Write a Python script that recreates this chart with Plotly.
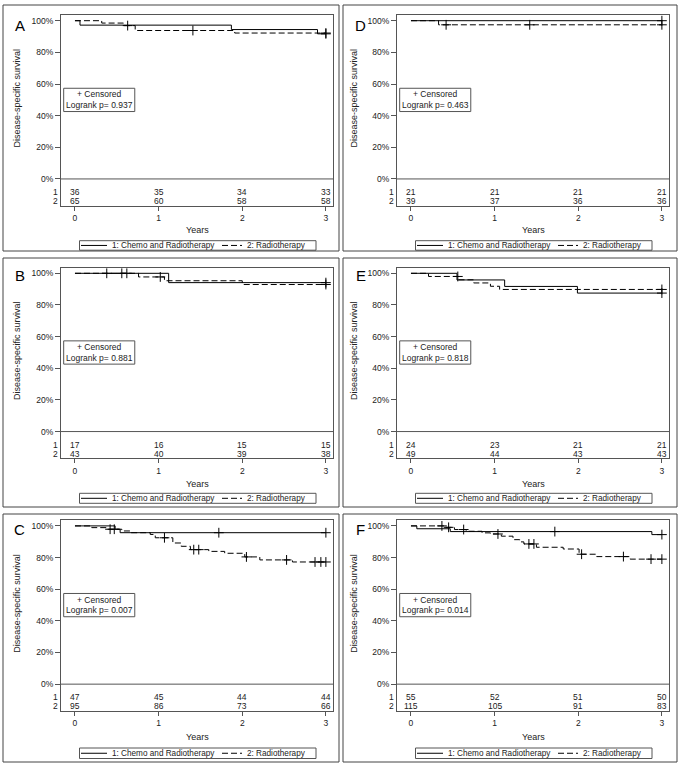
import plotly.graph_objects as go

W, H = 683, 769
FONT = "Liberation Sans, Arial, sans-serif"

years = [0, 1, 2, 3]
pct_ticks = [0, 20, 40, 60, 80, 100]
pct_labels = ['0%', '20%', '40%', '60%', '80%', '100%']
group_names = ['1: Chemo and Radiotherapy', '2: Radiotherapy']
letters = ['A', 'B', 'C', 'D', 'E', 'F']

# ---- panel A
a_chemo_t = [0, 0.06, 1.87, 2.90, 3.0]
a_chemo_s = [100, 97.2, 94.4, 91.7, 91.7]
a_chemo_ct = [3.0]
a_chemo_cs = [91.7]
a_radio_t = [0, 0.32, 0.58, 0.72, 1.91, 3.0]
a_radio_s = [100, 98.5, 96.9, 93.8, 92.2, 92.2]
a_radio_ct = [0.63, 1.41, 3.0]
a_radio_cs = [96.9, 93.8, 92.2]
a_risk1 = [36, 35, 34, 33]
a_risk2 = [65, 60, 58, 58]
a_p = '0.937'

# ---- panel B
b_chemo_t = [0, 1.12, 3.0]
b_chemo_s = [100, 94.1, 94.1]
b_chemo_ct = [0.38, 0.56, 0.62, 3.0]
b_chemo_cs = [100, 100, 100, 94.1]
b_radio_t = [0, 0.76, 1.07, 2.0, 3.0]
b_radio_s = [100, 97.7, 95.3, 92.9, 92.9]
b_radio_ct = [1.02, 3.0]
b_radio_cs = [97.7, 92.9]
b_risk1 = [17, 16, 15, 15]
b_risk2 = [43, 40, 39, 38]
b_p = '0.881'

# ---- panel C
c_chemo_t = [0, 0.48, 0.54, 3.0]
c_chemo_s = [100, 97.9, 95.7, 95.7]
c_chemo_ct = [1.72, 3.0]
c_chemo_cs = [95.7, 95.7]
c_radio_t = [0, 0.20, 0.38, 0.56, 0.66, 0.90, 0.96, 1.17, 1.27, 1.38, 1.60, 1.79, 2.03, 2.21, 2.60, 3.0]
c_radio_s = [100, 98.9, 97.9, 96.8, 95.7, 94.6, 92.5, 89.2, 87.1, 85.0, 83.9, 82.7, 80.4, 78.5, 77.2, 77.2]
c_radio_ct = [0.42, 0.47, 1.07, 1.42, 1.48, 2.05, 2.53, 2.87, 2.94, 3.0]
c_radio_cs = [97.9, 97.9, 92.5, 85.0, 85.0, 80.4, 78.5, 77.2, 77.2, 77.2]
c_risk1 = [47, 45, 44, 44]
c_risk2 = [95, 86, 73, 66]
c_p = '0.007'

# ---- panel D
d_chemo_t = [0, 3.0]
d_chemo_s = [100, 100]
d_chemo_ct = [3.0]
d_chemo_cs = [100]
d_radio_t = [0, 0.33, 3.0]
d_radio_s = [100, 97.4, 97.4]
d_radio_ct = [0.42, 1.42, 3.0]
d_radio_cs = [97.4, 97.4, 97.4]
d_risk1 = [21, 21, 21, 21]
d_risk2 = [39, 37, 36, 36]
d_p = '0.463'

# ---- panel E
e_chemo_t = [0, 0.55, 1.12, 1.99, 3.0]
e_chemo_s = [100, 95.8, 91.7, 87.5, 87.5]
e_chemo_ct = [3.0]
e_chemo_cs = [87.5]
e_radio_t = [0, 0.21, 0.57, 0.75, 0.95, 1.06, 3.0]
e_radio_s = [100, 98.0, 95.9, 93.9, 91.8, 89.8, 89.8]
e_radio_ct = [0.56, 3.0]
e_radio_cs = [98.0, 89.8]
e_risk1 = [24, 23, 21, 21]
e_risk2 = [49, 44, 43, 43]
e_p = '0.818'

# ---- panel F
f_chemo_t = [0, 0.07, 0.47, 2.88, 3.0]
f_chemo_s = [100, 98.2, 96.4, 94.5, 94.5]
f_chemo_ct = [1.72, 3.0]
f_chemo_cs = [96.4, 94.5]
f_radio_t = [0, 0.41, 0.52, 0.66, 0.85, 0.95, 1.08, 1.22, 1.30, 1.35, 1.50, 1.82, 2.01, 2.22, 2.62, 3.0]
f_radio_s = [100, 99.1, 97.7, 96.6, 95.6, 94.9, 93.5, 91.3, 89.9, 88.6, 86.5, 85.4, 82.1, 80.6, 79.0, 79.0]
f_radio_ct = [0.37, 0.45, 0.63, 1.04, 1.41, 1.47, 2.04, 2.54, 2.87, 3.0]
f_radio_cs = [100, 99.1, 97.7, 94.9, 88.6, 88.6, 82.1, 80.6, 79.0, 79.0]
f_risk1 = [55, 52, 51, 50]
f_risk2 = [115, 105, 91, 83]
f_p = '0.014'

panels = [
    (a_chemo_t, a_chemo_s, a_chemo_ct, a_chemo_cs, a_radio_t, a_radio_s, a_radio_ct, a_radio_cs, a_risk1, a_risk2, a_p),
    (b_chemo_t, b_chemo_s, b_chemo_ct, b_chemo_cs, b_radio_t, b_radio_s, b_radio_ct, b_radio_cs, b_risk1, b_risk2, b_p),
    (c_chemo_t, c_chemo_s, c_chemo_ct, c_chemo_cs, c_radio_t, c_radio_s, c_radio_ct, c_radio_cs, c_risk1, c_risk2, c_p),
    (d_chemo_t, d_chemo_s, d_chemo_ct, d_chemo_cs, d_radio_t, d_radio_s, d_radio_ct, d_radio_cs, d_risk1, d_risk2, d_p),
    (e_chemo_t, e_chemo_s, e_chemo_ct, e_chemo_cs, e_radio_t, e_radio_s, e_radio_ct, e_radio_cs, e_risk1, e_risk2, e_p),
    (f_chemo_t, f_chemo_s, f_chemo_ct, f_chemo_cs, f_radio_t, f_radio_s, f_radio_ct, f_radio_cs, f_risk1, f_risk2, f_p),
]

# pixel layout of the page (left/right column, three rows)
col_frame = [(61, 333), (397, 669)]
col_border = [(3, 339), (343, 677)]
col_zero = [75, 411]
col_letter = [19.5, 360.5]
col_ytitle = [17, 354]
row_frame_top = [15, 267.6, 520.2]
frame_h = 190.7
row_border = [(5, 251), (258, 507), (514, 762)]
row_years = [230, 483.5, 737.3]
row_legend = [(240.7, 250.2), (493.3, 503.3), (748, 758.5)]
row_letter = [25.3, 275, 529]


def fx(px):
    return px / W


def fy(py):
    return 1 - py / H


AX = '#555555'
fig = go.Figure()
layout = dict(width=W, height=H, margin=dict(l=0, r=0, t=0, b=0),
              paper_bgcolor='white', plot_bgcolor='white',
              font=dict(family=FONT, size=9, color='#222222'),
              showlegend=False)
shapes = []
annots = []


def note(x, y, text, xref='paper', yref='paper', size=9, xanchor='center', **kw):
    d = dict(x=x, y=y, xref=xref, yref=yref, text=text, showarrow=False,
             xanchor=xanchor, yanchor='middle', font=dict(size=size), borderpad=0)
    d.update(kw)
    annots.append(d)


for i, p in enumerate(panels):
    (ct, cs, cct, ccs, rt, rs, rct, rcs, risk1, risk2, pval) = p
    col, row = i // 3, i % 3
    k = '' if i == 0 else str(i + 1)
    xa, ya = 'x' + k, 'y' + k

    top = row_frame_top[row]
    layout['xaxis' + k] = dict(
        domain=[fx(col_frame[col][0]), fx(col_frame[col][1])],
        range=[-0.167, 3.085], anchor=ya, tickvals=years,
        ticks='outside', ticklen=4, tickcolor=AX, showline=True, mirror=True,
        linecolor=AX, linewidth=1, showgrid=False, zeroline=False,
        tickfont=dict(size=8.5), fixedrange=True)
    layout['yaxis' + k] = dict(
        domain=[fy(top + frame_h), fy(top)],
        range=[-16.9, 103.6], anchor=xa, tickvals=pct_ticks, ticktext=pct_labels,
        ticks='outside', ticklen=5, tickcolor=AX, showline=True, mirror=True,
        linecolor=AX, linewidth=1, showgrid=False, zeroline=False,
        tickfont=dict(size=8.5), fixedrange=True)

    # survival curves
    fig.add_trace(go.Scatter(x=ct, y=cs, mode='lines', xaxis=xa, yaxis=ya,
                             line=dict(shape='hv', color='black', width=1),
                             hoverinfo='skip'))
    fig.add_trace(go.Scatter(x=rt, y=rs, mode='lines', xaxis=xa, yaxis=ya,
                             line=dict(shape='hv', color='black', width=1, dash='6px,3px'),
                             hoverinfo='skip'))
    for cx, cy in ((cct, ccs), (rct, rcs)):
        fig.add_trace(go.Scatter(x=cx, y=cy, mode='markers', xaxis=xa, yaxis=ya,
                                 marker=dict(symbol='cross-thin-open', size=7, color='black',
                                             line=dict(width=1, color='black')),
                                 hoverinfo='skip', cliponaxis=False))

    # 0% baseline
    shapes.append(dict(type='line', xref=xa + ' domain', yref=ya, x0=0, x1=1, y0=0, y1=0,
                       line=dict(color=AX, width=1)))

    # numbers at risk
    for j, yr in enumerate(years):
        note(yr, -8.3, str(risk1[j]), xa, ya, size=8.5)
        note(yr, -14.0, str(risk2[j]), xa, ya, size=8.5)
    note(-0.008, -8.3, '1', xa + ' domain', ya, size=8.5, xanchor='right')
    note(-0.008, -14.0, '2', xa + ' domain', ya, size=8.5, xanchor='right')

    # censored / logrank box
    shapes.append(dict(type='rect', xref=xa, yref=ya, x0=-0.135, x1=0.715, y0=42.6, y1=57.3,
                       line=dict(color=AX, width=1), fillcolor='white'))
    note(0.29, 53.4, '+ Censored', xa, ya, size=8.5)
    note(0.29, 46.6, 'Logrank p= ' + pval, xa, ya, size=8.5)

    # panel letter
    note(fx(col_letter[col]), fy(row_letter[row]), letters[i], font=dict(size=15, color='black'))

    # y title
    note(fx(col_ytitle[col]), fy(top + 83.5), 'Disease-specific survival', textangle=-90)

    # x title
    xc = (col_frame[col][0] + col_frame[col][1]) / 2
    note(fx(xc), fy(row_years[row]), 'Years')

    # legend
    lb0, lb1 = row_legend[row]
    ly = (lb0 + lb1) / 2
    z = col_zero[col]
    shapes.append(dict(type='rect', xref='paper', yref='paper',
                       x0=fx(z + 4.5), x1=fx(z + 241), y0=fy(lb1), y1=fy(lb0),
                       line=dict(color=AX, width=1)))
    shapes.append(dict(type='line', xref='paper', yref='paper',
                       x0=fx(z + 6), x1=fx(z + 32), y0=fy(ly), y1=fy(ly),
                       line=dict(color='black', width=1)))
    note(fx(z + 36), fy(ly), group_names[0], size=8.2, xanchor='left')
    shapes.append(dict(type='line', xref='paper', yref='paper',
                       x0=fx(z + 147), x1=fx(z + 167), y0=fy(ly), y1=fy(ly),
                       line=dict(color='black', width=1, dash='6px,3px')))
    note(fx(z + 170.5), fy(ly), group_names[1], size=8.2, xanchor='left')

    # panel border
    bx0, bx1 = col_border[col]
    by0, by1 = row_border[row]
    shapes.append(dict(type='rect', xref='paper', yref='paper',
                       x0=fx(bx0), x1=fx(bx1), y0=fy(by1), y1=fy(by0),
                       line=dict(color='#444444', width=1)))

layout['shapes'] = shapes
layout['annotations'] = annots
fig.update_layout(**layout)
fig.write_html("out.html", config={'displayModeBar': False},
               post_script="document.body.style.margin='0';")
